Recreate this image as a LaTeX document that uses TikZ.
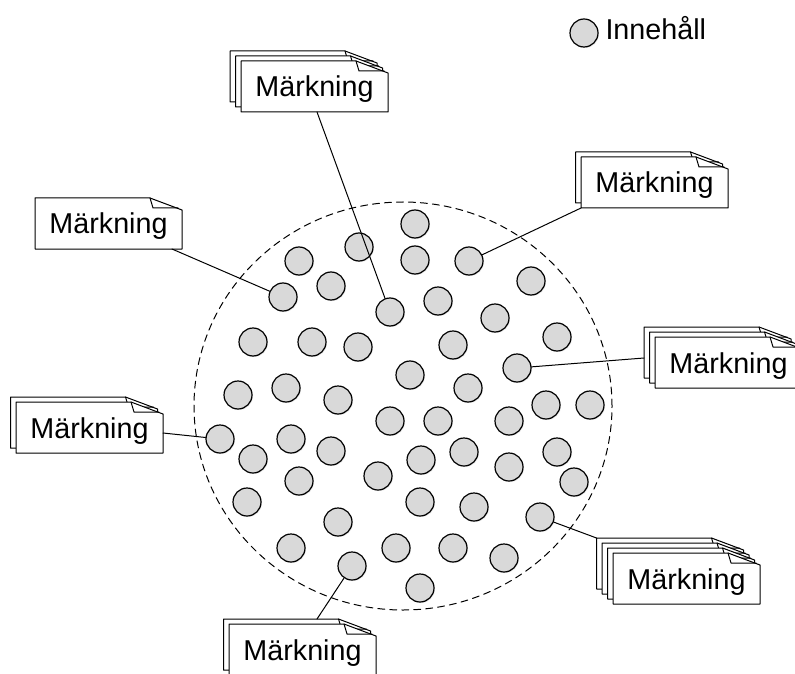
\documentclass[tikz,border=0pt]{standalone}
\usepackage{fontspec}
\setmainfont{Liberation Sans}
\usepackage{tikz}
\usetikzlibrary{shadows}
\definecolor{dotgray}{RGB}{217,217,217}
\newcommand{\markpage}[2]{%
  \filldraw[fill=white] (#1,#2) -- ++(115,0) -- ++(32,12) -- ++(0,39) -- ++(-147,0) -- cycle;
  \draw (#1+115,#2) -- ++(3,10) -- ++(25,0);
}
\newcommand{\markstack}[3]{%
  \foreach \k in {#3,...,0} {\markpage{#1-5.5*\k}{#2-5*\k}}
}

\begin{document}
\begin{tikzpicture}[line cap=round,line join=round,x=0.5pt,y=-0.5pt,line width=0.5pt,
    dot/.style={circle,draw,fill=dotgray,minimum size=14pt,inner sep=0pt,line width=0.6pt,
      drop shadow={shadow xshift=0.5pt,shadow yshift=-0.5pt,opacity=0.2,fill=black!50}},
    lbl/.style={anchor=base,inner sep=0pt,font=\fontsize{14.35}{17}\selectfont}]
      \useasboundingbox (0,0) rectangle (795,673);
      \draw[dash pattern=on 3.5pt off 2.5pt] (403,406) ellipse [x radius=104.5pt, y radius=102pt];
      \foreach \x/\y [count=\i] in {415/224,359/247,299/261,415/260,469/261,331/286,531/281,
          283/297,438/301,390/312,495/318,557/337,253/342,312/342,358/347,453/345,410/375,
          517/368,468/388,286/388,238/395,338/400,390/421,438/421,509/421,546/405,590/405,
          220/439,291/439,331/451,253/459,421/460,464/452,509/467,557/452,574/482,299/481,
          378/476,247/502,420/502,474/507,338/522,540/517,291/548,396/548,453/548,504/558,
          352/566,420/588}
      \node[dot] (c\i) at (\x,\y) {};
      \markstack{241}{61}{2}
      \markstack{581}{157}{1}
      \markstack{35}{198}{0}
      \markstack{655}{337}{2}
      \markstack{16}{402}{1}
      \markstack{613}{553}{3}
      \markstack{229}{624}{1}
      \node[lbl] (m1) at (314.5,97) {Märkning};
      \node[lbl] (m2) at (654.5,193) {Märkning};
      \node[lbl] (m3) at (108.5,234) {Märkning};
      \node[lbl] (m4) at (728.5,373) {Märkning};
      \node[lbl] (m5) at (89.5,438) {Märkning};
      \node[lbl] (m6) at (686.5,589) {Märkning};
      \node[lbl] (m7) at (302.5,660) {Märkning};
      \coordinate (m1a) at (317,112);
      \coordinate (m2a) at (581,208);
      \coordinate (m3a) at (172,249);
      \coordinate (m4a) at (644,358);
      \coordinate (m5a) at (163,433);
      \coordinate (m6a) at (596.5,538);
      \coordinate (m7a) at (317,619);
      \draw (m1a) -- (c10);
      \draw (m2a) -- (c5);
      \draw (m3a) -- (c8);
      \draw (m4a) -- (c18);
      \draw (m5a) -- (c28);
      \draw (m6a) -- (c43);
      \draw (m7a) -- (c48);
      \node[dot] (leg) at (584,33) {};
      \node[lbl,anchor=base west] (legtxt) at (605,40) {Innehåll};
    \end{tikzpicture}
\end{document}
